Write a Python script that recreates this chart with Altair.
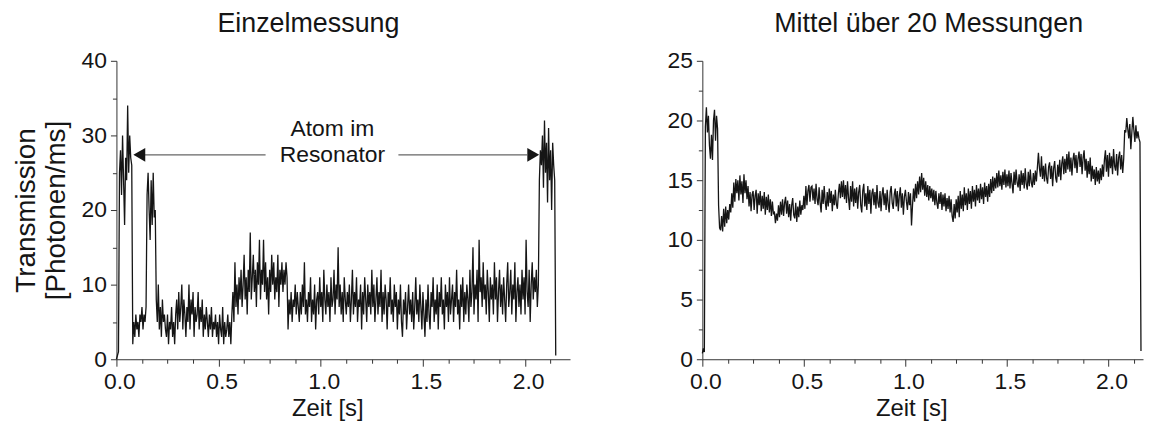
import altair as alt
import pandas as pd

STEP = 0.005  # sampling interval of the recorded traces [s]

# Einzelmessung (single measurement), photons/ms, one value per 5 ms
einzel = [
    0, 0.5, 1, 25, 28, 22, 30, 24, 18, 27, 24, 34, 25, 30, 27, 26,
    2, 5, 3, 6, 4, 5, 3, 6, 5, 7, 4, 6, 5,
    7,
    22, 25, 20, 16, 24, 18, 25, 19, 20,
    8, 5, 10, 4, 7, 3, 8, 5, 6, 4,
    3, 6, 2, 5, 4, 7, 3, 5, 2, 6,
    8, 4, 9, 5, 7, 10, 4, 8, 6, 3,
    7, 5, 10, 4, 8, 6, 9, 3, 7, 5,
    6, 9, 4, 7, 5, 8, 3, 6, 4, 7,
    5, 3, 6, 4, 7, 3, 5, 4, 6, 3,
    5, 2, 6, 4, 3, 7, 2, 5, 3, 4,
    6, 3, 5, 2,
    6, 9, 5, 13, 7, 10, 6, 11, 8, 12,
    7, 10, 14, 8, 11, 6, 12, 9, 17, 8,
    11, 14, 9, 12, 7, 13, 10, 16, 8, 12,
    10, 16, 9, 13, 8, 11, 6, 12, 9, 14,
    10, 13, 8, 11, 9, 14, 7, 12, 10, 13,
    9, 12, 10, 13, 11,
    4, 8, 6, 9, 5, 8, 7, 10, 6, 9,
    7, 5, 9, 6, 10, 7, 13, 6, 8, 5,
    9, 7, 11, 5, 8, 6, 10, 4, 8, 9,
    6, 11, 7, 9, 5, 12, 8, 6, 10, 7,
    9, 5, 11, 7, 8, 12, 6, 10, 8, 15,
    7, 10, 6, 9, 5, 11, 8, 6, 9, 7,
    10, 5, 8, 12, 6, 9, 7, 11, 5, 8,
    7, 10, 4, 9, 6, 11, 8, 5, 10, 7,
    9, 6, 12, 7, 10, 5, 8, 11, 6, 9,
    7, 12, 5, 9, 6, 10, 8, 4, 9, 7,
    11, 6, 8, 5, 10, 7, 9, 4, 8, 6,
    10, 5, 3, 8, 6, 9, 4, 7, 10, 6,
    8, 5, 9, 4, 7, 11, 6, 8, 5, 10,
    7, 4, 9, 6, 3, 8, 5, 10, 6, 4,
    9, 7, 11, 5, 8, 6, 10, 4, 9, 7,
    11, 6, 8, 4, 10, 7, 9, 5, 11, 6,
    8, 10, 5, 9, 7, 12, 6, 8, 4, 10,
    7, 11, 5, 9, 6, 10, 8, 5, 12, 7,
    9, 15, 6, 10, 8, 12, 5, 16, 9, 11,
    7, 13, 8, 10, 6, 12, 9, 5, 11, 8,
    10, 6, 13, 8, 11, 5, 9, 12, 7, 10,
    6, 11, 8, 5, 10, 13, 7, 9, 12, 6,
    10, 8, 13, 5, 9, 11, 7, 10, 6, 12,
    8, 11, 6, 16, 9, 7, 12, 5, 10, 13,
    8, 11, 9, 12, 7, 10,
    24, 28, 26, 30, 23, 32, 25, 29, 21, 31, 24, 28, 20, 29, 26, 24, 0.5,
]

# Mittel über 20 Messungen (average of 20 measurements)
mittel = [
    0.5, 0.9, 0.6, 19.5,
    21.1, 19.0, 20.4, 17.9, 16.8, 18.8, 16.7, 20.0, 20.9, 18.3, 20.4,
    19.3, 12.9,
    11.0, 10.8, 12.0, 10.7, 12.6, 11.1, 12.8, 11.4, 12.5, 11.7, 13.0,
    12.3, 13.9, 12.7, 14.8, 13.2, 15.1, 13.9, 15.0,
    13.3, 15.4, 13.8, 14.9, 13.1, 15.5, 13.9, 15.0, 13.4, 14.5,
    12.8, 14.0, 12.4, 13.8, 14.1, 12.5, 13.7, 14.2, 12.2, 13.9, 12.9, 14.1, 12.4,
    13.7, 12.6, 14.0, 12.1, 13.6, 12.5, 13.8, 12.3, 13.4, 12.0, 13.2, 12.2,
    12.3, 11.4, 12.2, 11.6, 12.9, 11.9, 13.2, 12.1, 13.4, 12.0, 13.1, 13.6, 12.2, 13.3,
    11.9, 13.0, 11.6, 12.9, 13.5, 12.1, 11.8, 13.1, 11.5, 12.8, 11.9, 13.3, 12.1, 12.9,
    12.5, 13.7, 12.6, 14.5, 12.9, 14.1, 14.6, 13.2, 14.4,
    14.5, 13.3, 14.3, 13.0, 14.7, 13.4, 12.9, 14.4, 13.1, 12.3, 14.2, 13.0, 14.5, 13.2,
    12.5, 14.0, 12.8, 14.3, 13.1, 14.1, 12.4, 13.8, 12.9, 14.2, 13.0, 12.6, 13.9, 14.7,
    13.5, 14.9, 13.6, 15.0, 13.4, 14.6, 13.1, 14.9, 13.5, 12.5, 14.5, 13.2, 14.9, 12.8, 14.3,
    13.1, 14.4, 12.6, 14.0, 14.6, 12.9, 12.3, 14.1, 14.7, 12.8, 13.9, 12.5, 14.5, 13.0,
    14.2, 12.2, 13.9, 14.3, 12.9, 14.0, 12.6, 14.6, 13.1, 12.7, 14.1, 12.4, 13.8, 14.4,
    12.9, 13.9, 12.5, 14.2, 13.0, 12.3, 14.0, 14.5, 13.1, 12.6, 13.8, 14.3, 12.8, 14.1,
    12.4, 13.7, 14.4, 12.7, 13.9, 12.1, 13.6, 14.2, 13.2, 12.5, 14.0, 12.9, 13.9,
    11.2,
    12.9, 14.3, 13.2, 14.7, 13.5, 14.9, 13.8, 15.3, 14.0, 15.6, 14.2, 15.2, 13.7, 14.9,
    13.6, 14.6, 13.3, 14.5, 13.5,
    14.3, 13.2, 14.2, 12.9, 14.1, 13.1, 12.6, 13.9, 13.0, 14.0, 12.5, 13.8, 12.8, 13.9,
    12.4, 13.5, 12.6, 13.7, 12.3, 13.4,
    12.0, 11.5, 13.0, 11.8, 13.4,
    12.3, 13.7, 11.9, 14.1, 12.6, 13.8, 12.4, 14.4, 12.9, 13.9, 12.5, 14.3, 13.0, 14.1,
    12.6, 14.5, 13.2, 14.2, 12.8, 14.6, 13.3, 14.3, 13.1, 14.7, 13.4, 14.4, 13.0, 14.8,
    13.6, 14.5,
    13.2, 14.7, 13.6, 15.1, 13.9, 15.3, 14.1, 15.2, 14.3, 15.6, 14.4, 15.8, 14.5, 15.4,
    14.2, 15.7, 14.6, 15.9, 14.4, 15.5,
    14.5, 15.8, 14.3, 15.6, 14.7, 13.9, 15.7, 14.6, 15.9, 14.8, 14.4, 15.5, 14.1, 15.8,
    14.6, 15.6, 14.3, 16.0, 14.7, 14.2, 15.7, 14.5, 15.9, 14.8, 14.4, 15.6, 14.6, 15.8,
    14.9, 16.1,
    17.3, 16.0, 15.3, 17.0, 15.1,
    16.2, 14.9, 16.4, 15.2, 14.7, 16.1, 16.5, 15.1, 16.2, 14.5, 16.0, 16.6, 15.2, 14.8,
    16.3, 15.3, 16.7, 15.0, 16.4, 17.0, 15.5, 16.8, 15.6, 17.2, 15.9, 17.4, 15.7, 16.9,
    15.4, 16.7, 17.3, 16.0, 17.1, 15.6, 16.8,
    17.4, 16.1, 17.2, 15.5, 16.9, 17.5, 15.8, 16.8, 15.2, 16.6, 15.5, 16.9, 14.9, 16.2, 15.1,
    15.9, 14.6, 16.1, 14.9, 15.8, 14.7, 16.0, 15.0, 16.3, 15.3,
    16.7, 17.5, 15.7, 17.1, 15.3, 17.3, 16.0, 17.0, 15.5, 17.6, 16.2, 15.8, 17.2, 15.4,
    16.9, 17.4, 15.9, 17.1, 15.6, 16.8,
    19.2,
    19.0, 20.2, 19.3, 18.5, 19.7, 17.6, 19.0, 20.3, 19.2, 18.2, 19.6, 18.5, 19.1, 18.5,
    18.2, 0.7,
]

# annotation (left panel)
anno_text = ["Atom im", "Resonator"]
anno_x = [1.057, 1.057]
anno_y = [30.9, 27.4]
arrow_y = 27.4
arrow_left = [0.09, 0.73]    # shaft from / to
arrow_right = [1.38, 2.01]
head_x = [0.112, 2.04]

FONT = "Liberation Sans"
INK = "#151515"

x_major = [0, 0.5, 1.0, 1.5, 2.0]
x_minor = [0.125, 0.25, 0.375, 0.625, 0.75, 0.875, 1.125, 1.25, 1.375,
           1.625, 1.75, 1.875, 2.125]

left_df = pd.DataFrame({"t": [i * STEP for i in range(len(einzel))], "v": einzel})
right_df = pd.DataFrame({"t": [i * STEP for i in range(len(mittel))], "v": mittel})


def panel(df, xmax, ymax, y_major, y_minor, ytitle, xtitle_x, stroke):
    xs = alt.Scale(domain=[0, xmax], nice=False, zero=False)
    ys = alt.Scale(domain=[0, ymax], nice=False)
    main = alt.Chart(df).mark_line(color=INK, strokeWidth=stroke).encode(
        x=alt.X("t:Q", scale=xs, axis=alt.Axis(
            values=x_major, format=".1f", tickSize=7, title="Zeit [s]",
            titleX=xtitle_x, orient="bottom", labelFlush=False, grid=False,
            labelPadding=4, titlePadding=4, labelOffset=3)),
        y=alt.Y("v:Q", scale=ys, axis=alt.Axis(
            values=y_major, tickSize=6, title=ytitle, orient="left",
            labelFlush=False, grid=False, labelPadding=4, titlePadding=11,
            titleLineHeight=30, titleFontSize=28)),
    )
    minor = alt.Chart(df).mark_line(opacity=0).encode(
        x=alt.X("t:Q", scale=xs, axis=alt.Axis(
            values=x_minor, tickSize=4, labels=False, domain=False, title="",
            orient="bottom", grid=False)),
        y=alt.Y("v:Q", scale=ys, axis=alt.Axis(
            values=y_minor, tickSize=4, labels=False, domain=False, title="",
            orient="left", grid=False)),
    )
    return [main, minor], xs, ys


l_layers, lxs, lys = panel(left_df, 2.22, 40, [0, 10, 20, 30, 40], [5, 15, 25, 35],
                           ["Transmission", "[Photonen/ms]"], 212, 1.3)

ann_df = pd.DataFrame({"x": anno_x, "y": anno_y, "label": anno_text})
shaft_df = pd.DataFrame({"x": [arrow_left[0], arrow_right[0]],
                         "x2": [arrow_left[1], arrow_right[1]],
                         "y": [arrow_y, arrow_y]})
text = alt.Chart(ann_df).mark_text(font=FONT, fontSize=23, color=INK).encode(
    x=alt.X("x:Q", scale=lxs, axis=None), y=alt.Y("y:Q", scale=lys, axis=None),
    text="label:N")
shafts = alt.Chart(shaft_df).mark_rule(color="#666666", strokeWidth=1.3).encode(
    x=alt.X("x:Q", scale=lxs, axis=None), x2="x2:Q",
    y=alt.Y("y:Q", scale=lys, axis=None))
head_l = alt.Chart(pd.DataFrame({"x": [head_x[0]], "y": [arrow_y]})).mark_point(
    shape="triangle-left", filled=True, size=190, color=INK, opacity=1).encode(
    x=alt.X("x:Q", scale=lxs, axis=None), y=alt.Y("y:Q", scale=lys, axis=None))
head_r = alt.Chart(pd.DataFrame({"x": [head_x[1]], "y": [arrow_y]})).mark_point(
    shape="triangle-right", filled=True, size=190, color=INK, opacity=1).encode(
    x=alt.X("x:Q", scale=lxs, axis=None), y=alt.Y("y:Q", scale=lys, axis=None))

left = alt.layer(*l_layers, shafts, head_l, head_r, text).resolve_axis(
    x="independent", y="independent").properties(
    width=456, height=300,
    title=alt.TitleParams("Einzelmessung", dx=-35, offset=12))

r_layers, rxs, rys = panel(right_df, 2.17, 25, [0, 5, 10, 15, 20, 25],
                           [2.5, 7.5, 12.5, 17.5, 22.5], "", 210, 1.3)
right = alt.layer(*r_layers).resolve_axis(
    x="independent", y="independent").properties(
    width=443, height=300,
    title=alt.TitleParams("Mittel über 20 Messungen", dx=6, offset=12))

chart = alt.hconcat(left, right, spacing=97).properties(
    padding={"left": 4, "top": 1, "right": 0, "bottom": 0}
).configure_view(stroke=None).configure_axis(
    labelFont=FONT, titleFont=FONT, labelFontSize=23, titleFontSize=24,
    labelColor=INK, titleColor=INK, domainColor="#333333", tickColor="#333333",
    titleFontWeight="normal",
).configure_title(
    font=FONT, fontSize=27, fontWeight="normal", color=INK, anchor="middle")

chart.save("out.html", embed_options={"renderer": "svg", "actions": False})
